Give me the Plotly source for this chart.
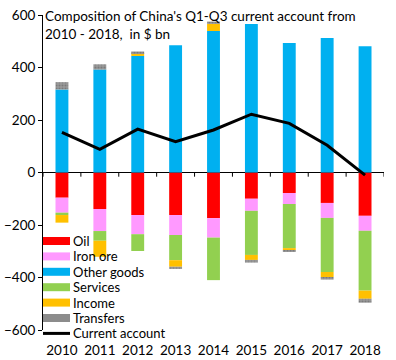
import plotly.graph_objects as go

years = ["2010", "2011", "2012", "2013", "2014", "2015", "2016", "2017", "2018"]
oil = [-96, -139, -162, -162, -174, -100, -78, -116, -165]
iron_ore = [-57, -84, -73, -76, -74, -46, -42, -57, -57]
other_goods = [316, 392, 444, 485, 539, 566, 493, 512, 481]
services = [-9, -37, -64, -96, -162, -168, -168, -206, -228]
income = [-29, -61, 11, -25, 27, -19, -8, -19, -31]
transfers = [28, 20, 6, -8, 9, -10, -6, -10, -15]
current_account = [153, 88, 165, 117, 162, 222, 187, 104, -10]
y_ticks = [600, 400, 200, 0, -200, -400, -600]

FONT = "Lato"
W, H = 396, 360
ML, MR, MT, MB = 43, 12, 15, 30
PW, PH = W - ML - MR, H - MT - MB

def px_x(px):
    return (px - ML) / PW

def px_y(py):
    return (H - MB - py) / PH

TRANSFER_PATTERN = dict(shape=".", fgcolor="#5A5A5A", bgcolor="#9A9A9A", size=3, solidity=0.4)

bar_series = [
    ("Oil", oil, "#FF0000"),
    ("Iron ore", iron_ore, "#FF99FF"),
    ("Other goods", other_goods, "#00B0F0"),
    ("Services", services, "#92D050"),
    ("Income", income, "#FFC000"),
    ("Transfers", transfers, "#8C8C8C"),
]

fig = go.Figure()
for name, vals, col in bar_series:
    marker = dict(color=col, line=dict(width=0))
    if name == "Transfers":
        marker["pattern"] = TRANSFER_PATTERN
    fig.add_trace(go.Bar(x=years, y=vals, name=name, marker=marker, showlegend=False))
fig.add_trace(go.Scatter(x=years, y=current_account, name="Current account", mode="lines",
                         line=dict(color="black", width=3), showlegend=False))

# tick marks on the zero line at category boundaries
for k in range(len(years) + 1):
    fig.add_shape(type="line", xref="x", yref="y", x0=k - 0.5, x1=k - 0.5, y0=0, y1=-16,
                  line=dict(color="black", width=1))

# legend drawn in the lower-left corner of the plot
legend_names = [s[0] for s in bar_series] + ["Current account"]
legend_colors = [s[2] for s in bar_series] + ["black"]
row0, row_gap = 241, 15.4
for i, (nm, col) in enumerate(zip(legend_names, legend_colors)):
    cy = row0 + i * row_gap
    if nm == "Current account":
        fig.add_shape(type="line", xref="paper", yref="paper", x0=px_x(43), x1=px_x(70),
                      y0=px_y(cy), y1=px_y(cy), line=dict(color="black", width=3))
    else:
        fig.add_shape(type="rect", xref="paper", yref="paper", x0=px_x(43), x1=px_x(70),
                      y0=px_y(cy + 4), y1=px_y(cy - 4), fillcolor=col, line=dict(width=0), layer="above")
    fig.add_annotation(text=nm, xref="paper", yref="paper", x=px_x(71), y=px_y(cy),
                       xanchor="left", yanchor="middle", showarrow=False,
                       font=dict(family=FONT, size=13, color="black"))

fig.add_annotation(text="Composition of China's Q1-Q3 current account from<br>2010 - 2018,  in $ bn",
                   xref="paper", yref="paper", x=0.0, y=1.03, xanchor="left", yanchor="top",
                   align="left", showarrow=False, font=dict(family=FONT, size=13.5, color="black"))

fig.update_layout(
    width=W, height=H,
    margin=dict(l=ML, r=MR, t=MT, b=MB, autoexpand=False),
    paper_bgcolor="white", plot_bgcolor="white",
    barmode="relative", bargap=0.66,
    font=dict(family=FONT, size=13, color="black"),
    showlegend=False,
    xaxis=dict(range=[-0.5, 8.5], showline=False, showgrid=False, ticks="outside", ticklen=8,
               tickcolor="rgba(0,0,0,0)", tickfont=dict(family=FONT, size=13.5)),
    yaxis=dict(range=[-600, 600], tickvals=y_ticks, showgrid=False, showline=True, linecolor="black",
               linewidth=1, ticks="outside", ticklen=4, tickcolor="black",
               zeroline=True, zerolinecolor="black", zerolinewidth=1,
               tickfont=dict(family=FONT, size=13.5)),
)
fig.write_html("out.html", config={"displayModeBar": False},
               post_script="document.body.style.margin='0';document.body.style.overflow='hidden';")
